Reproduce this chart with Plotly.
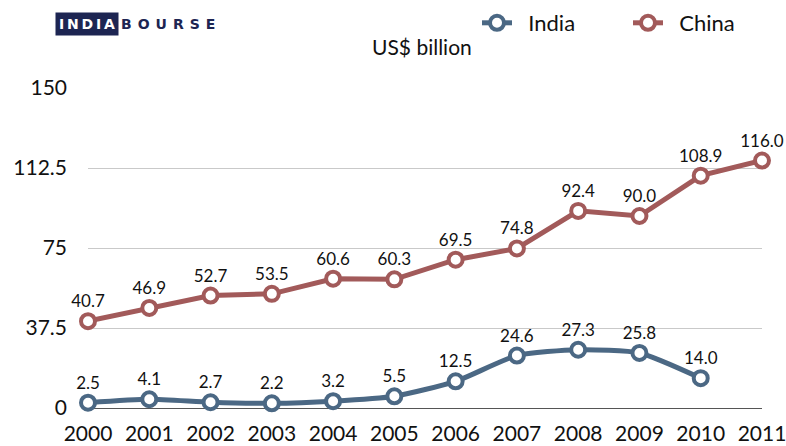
import plotly.graph_objects as go

# Foreign direct investment inflows, US$ billion
years = [2000, 2001, 2002, 2003, 2004, 2005, 2006, 2007, 2008, 2009, 2010, 2011]
india = [2.5, 4.1, 2.7, 2.2, 3.2, 5.5, 12.5, 24.6, 27.3, 25.8, 14.0]
china = [40.7, 46.9, 52.7, 53.5, 60.6, 60.3, 69.5, 74.8, 92.4, 90.0, 108.9, 116.0]
y_ticks = [0, 37.5, 75, 112.5, 150]
y_tick_text = ["0", "37.5", "75", "112.5", "150"]

INDIA_COLOR = "#4b6884"
CHINA_COLOR = "#a25a5a"
FONT = "Lato, 'Open Sans', sans-serif"

W, H = 786, 446
ML, MR, MT, MB = 88, 24, 88, 38
PW, PH = W - ML - MR, H - MT - MB


def px_x(x):
    return (x - ML) / PW


def px_y(y):
    return (H - MB - y) / PH


def spaced(word, gap):
    return gap.join(word)


fig = go.Figure()

fig.add_trace(go.Scatter(
    x=years[:len(india)], y=india, name="\u00a0\u00a0India",
    mode="lines+markers+text",
    line=dict(color=INDIA_COLOR, width=5, shape="spline", smoothing=0.6),
    marker=dict(size=14, color="white", line=dict(color=INDIA_COLOR, width=4)),
    text=[f"{v:.1f}" for v in india], textposition="top center",
    textfont=dict(family=FONT, size=17, color="#111111"),
    cliponaxis=False,
))

fig.add_trace(go.Scatter(
    x=years, y=china, name="\u00a0\u00a0China",
    mode="lines+markers+text",
    line=dict(color=CHINA_COLOR, width=5),
    marker=dict(size=14, color="white", line=dict(color=CHINA_COLOR, width=4)),
    text=[f"{v:.1f}" for v in china], textposition="top center",
    textfont=dict(family=FONT, size=17, color="#111111"),
    cliponaxis=False,
))

fig.update_layout(
    width=W, height=H,
    margin=dict(l=ML, r=MR, t=MT, b=MB, autoexpand=False),
    paper_bgcolor="white", plot_bgcolor="white",
    font=dict(family=FONT, color="#111111"),
    showlegend=True,
    legend=dict(
        orientation="h", x=px_x(477), y=px_y(23), xanchor="left", yanchor="middle",
        font=dict(family=FONT, size=22, color="#111111"),
        entrywidth=106, bgcolor="rgba(0,0,0,0)",
    ),
    xaxis=dict(
        range=[1999.9999, 2011.0001], tickmode="array", tickvals=years,
        ticktext=[str(y) for y in years], showgrid=False, zeroline=False,
        showline=False, ticks="", ticklabelstandoff=11, automargin=False,
        ticklabeloverflow="allow",
        tickfont=dict(family=FONT, size=21, color="#111111"),
    ),
    yaxis=dict(
        range=[0, 150], tickmode="array", tickvals=y_ticks, ticktext=y_tick_text,
        showgrid=True, gridcolor="#c9c9c9", gridwidth=1,
        zeroline=True, zerolinecolor="#555555", zerolinewidth=1,
        showline=False, ticks="", ticklabelstandoff=20, automargin=False,
        tickfont=dict(family=FONT, size=21, color="#111111"),
    ),
    annotations=[
        dict(text="US$ billion", xref="paper", yref="paper",
             x=px_x(422), y=px_y(47), xanchor="center", yanchor="middle",
             showarrow=False, font=dict(family=FONT, size=21, color="#111111")),
        dict(text="<b>" + spaced("INDIA", "\u2009") + "</b>", xref="paper", yref="paper",
             x=px_x(55), y=px_y(24), xanchor="left", yanchor="middle",
             showarrow=False, bgcolor="#1d2552", borderpad=3,
             font=dict(family="DejaVu Sans", size=14, color="white")),
        dict(text="<b>" + spaced("BOURSE", "\u2004\u200a") + "</b>", xref="paper", yref="paper",
             x=px_x(119), y=px_y(24), xanchor="left", yanchor="middle",
             showarrow=False,
             font=dict(family="DejaVu Sans", size=14, color="#1d2552")),
    ],
)

fig.write_html("out.html")
